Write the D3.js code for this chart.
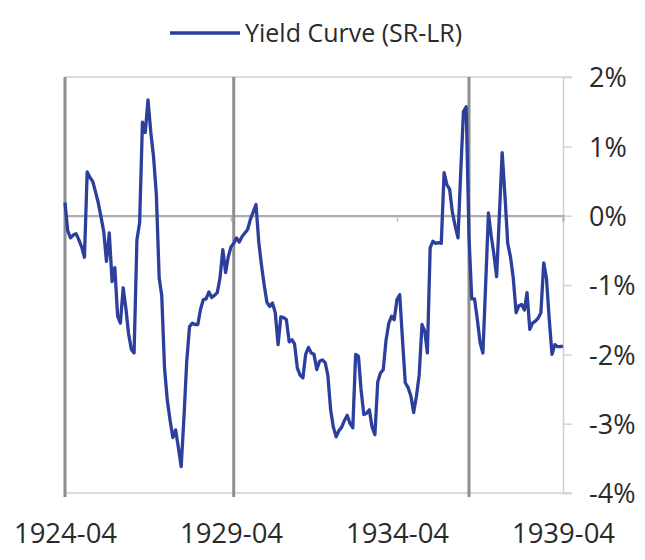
<!DOCTYPE html>
<html>
<head>
<meta charset="utf-8">
<script src="https://cdn.jsdelivr.net/npm/d3@7"></script>
<style>
  html, body { margin: 0; padding: 0; background: #fff; }
  svg text { font-family: "Open Sans", "Noto Sans", sans-serif; fill: #2a2a2a; }
</style>
</head>
<body>
<svg id="chart" width="645" height="560"></svg>
<script>
// ---- data ----
const startMonth = "1924-04";
const endMonth = "1939-04";
const seriesName = "Yield Curve (SR-LR)";
// monthly yield curve spread (short rate - long rate), percent
const yieldSpread = [
  0.19, -0.22, -0.32, -0.28, -0.26, -0.35, -0.45, -0.6, 0.63, 0.55,
  0.49, 0.35, 0.19, -0.01, -0.23, -0.66, -0.25, -0.95, -0.75, -1.45,
  -1.55, -1.04, -1.35, -1.7, -1.93, -1.98, -0.35, -0.1, 1.35, 1.2,
  1.67, 1.2, 0.85, 0.3, -0.9, -1.15, -2.2, -2.66, -2.95, -3.2,
  -3.09, -3.35, -3.62, -2.9, -2.1, -1.6, -1.55, -1.57, -1.57, -1.35,
  -1.21, -1.2, -1.1, -1.18, -1.15, -1.11, -0.9, -0.49, -0.82, -0.6,
  -0.45, -0.4, -0.32, -0.38, -0.3, -0.25, -0.2, -0.05, 0.05, 0.16,
  -0.39, -0.7, -1.0, -1.25, -1.31, -1.26, -1.4, -1.86, -1.46, -1.47,
  -1.5, -1.82, -1.79, -1.85, -2.2, -2.3, -2.34, -2.0, -1.9, -1.98,
  -2.0, -2.22, -2.1, -2.08, -2.12, -2.3, -2.8, -3.05, -3.19, -3.1,
  -3.05, -2.95, -2.88, -3.0, -3.06, -2.0, -2.03, -2.5, -2.87, -2.85,
  -2.8, -3.05, -3.16, -2.4, -2.27, -2.22, -1.8, -1.55, -1.45, -1.5,
  -1.21, -1.14, -1.8, -2.41, -2.48, -2.6, -2.84, -2.6, -2.3, -1.57,
  -1.67, -1.98, -0.46, -0.37, -0.4, -0.39, -0.4, 0.62, 0.45, 0.38,
  0.05, -0.15, -0.32, 0.6, 1.5, 1.57, -0.3, -1.2, -1.2, -1.5,
  -1.83, -1.98, -1.0, 0.04, -0.3, -0.55, -0.88, 0.0, 0.91, 0.3,
  -0.4, -0.6, -0.9, -1.4, -1.3, -1.28, -1.36, -1.11, -1.64, -1.55,
  -1.52, -1.48, -1.4, -0.68, -0.9, -1.5, -2.0, -1.86, -1.89, -1.89,
  -1.88
];
const xTickLabels = ["1924-04", "1929-04", "1934-04", "1939-04"];
const yTicks = [2, 1, 0, -1, -2, -3, -4];
const markerMonths = ["1924-04", "1929-05", "1936-06"];

(function () {
  const parseMonth = d3.timeParse("%Y-%m");
  const fmtMonth = d3.timeFormat("%Y-%m");
  const months = d3.timeMonth.range(parseMonth(startMonth), d3.timeMonth.offset(parseMonth(endMonth), 1));
  const data = months.map((m, i) => ({ date: m, value: yieldSpread[i] }));

  const svg = d3.select("#chart");
  const pL = 65, pR = 563, pT = 77, pB = 493;

  const x = d3.scaleTime()
    .domain([parseMonth(startMonth), parseMonth(endMonth)])
    .range([pL, pR]);
  const y = d3.scaleLinear().domain([-4, 2]).range([pB, pT]);

  // borders (top & bottom)
  svg.append("g").selectAll("line").data([2, -4]).join("line")
    .attr("x1", pL).attr("x2", pR + 9)
    .attr("y1", d => y(d)).attr("y2", d => y(d))
    .attr("stroke", "#cfcfcf").attr("stroke-width", 1.5);

  // right axis
  const yAxis = svg.append("g")
    .attr("transform", `translate(${pR},0)`)
    .call(d3.axisRight(y).tickValues(yTicks).tickSize(9).tickPadding(17)
      .tickFormat(d => d + "%"));
  yAxis.attr("font-family", null);
  yAxis.select(".domain").attr("stroke", "#cfcfcf").attr("stroke-width", 1.5);
  yAxis.selectAll(".tick line").attr("stroke", "#d4d4d4").attr("stroke-width", 1.5);
  yAxis.selectAll("text").attr("font-size", 27).attr("fill", "#2a2a2a")
    .attr("dy", "0.36em");

  // zero (category) axis
  const xAxis = svg.append("g")
    .attr("transform", `translate(0,${y(0)})`)
    .call(d3.axisBottom(x).tickValues(xTickLabels.map(parseMonth)).tickSize(6)
      .tickFormat(fmtMonth));
  xAxis.attr("font-family", null);
  xAxis.select(".domain").attr("stroke", "#adadad").attr("stroke-width", 2.2);
  xAxis.selectAll(".tick line").attr("stroke", "#bdbdbd").attr("stroke-width", 1.5);
  xAxis.selectAll("text")
    .attr("y", (533 - y(0)))
    .attr("dy", "0.36em")
    .attr("font-size", 27.5).attr("fill", "#2a2a2a");

  // vertical marker lines
  svg.append("g").selectAll("line").data(markerMonths).join("line")
    .attr("x1", d => x(parseMonth(d))).attr("x2", d => x(parseMonth(d)))
    .attr("y1", pT).attr("y2", pB + 4)
    .attr("stroke", "#8e8e8e").attr("stroke-width", 3);

  // series line
  const line = d3.line().x(d => x(d.date)).y(d => y(d.value));
  svg.append("path").datum(data)
    .attr("d", line)
    .attr("fill", "none")
    .attr("stroke", "#2d3f9c")
    .attr("stroke-width", 3.3)
    .attr("stroke-linejoin", "round");

  // legend
  const lg = svg.append("g");
  lg.append("line").attr("x1", 170).attr("x2", 240).attr("y1", 33).attr("y2", 33)
    .attr("stroke", "#2d3f9c").attr("stroke-width", 3.3);
  lg.append("text").attr("x", 245).attr("y", 33).attr("dy", "0.36em")
    .attr("font-size", 25).text(seriesName);
})();
</script>
</body>
</html>
